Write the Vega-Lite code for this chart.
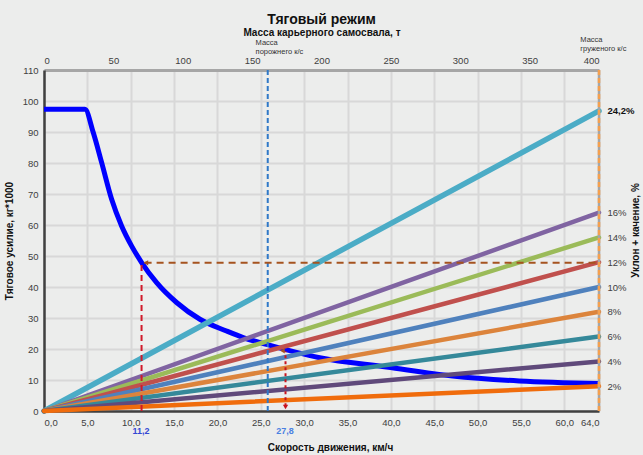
{
  "$schema": "https://vega.github.io/schema/vega-lite/v6.json",
  "width": 555,
  "height": 341,
  "autosize": {"type": "none"},
  "padding": {"left": 44, "top": 70, "right": 44, "bottom": 44},
  "background": "#ecedec",
  "title": {
    "text": "Тяговый режим",
    "fontSize": 14,
    "fontWeight": "bold",
    "color": "#111111",
    "anchor": "middle",
    "offset": 0
  },
  "config": {
    "font": "Liberation Sans",
    "view": {"stroke": null},
    "axis": {
      "labelFontSize": 9.5,
      "labelColor": "#404040",
      "titleFontSize": 10,
      "titleFontWeight": "bold",
      "titleColor": "#111111",
      "ticks": false,
      "tickSize": 0
    }
  },
  "datasets": {
    "effort": [
      {"v": 0, "f": 97.3},
      {"v": 4.72, "f": 97.3},
      {"v": 5.68, "f": 89.8},
      {"v": 6.65, "f": 80.1},
      {"v": 7.8, "f": 68.3},
      {"v": 8.95, "f": 59.7},
      {"v": 10.11, "f": 53.2},
      {"v": 11.26, "f": 47.9},
      {"v": 12.99, "f": 41.4},
      {"v": 15.29, "f": 35.0},
      {"v": 17.98, "f": 29.6},
      {"v": 21.05, "f": 25.8},
      {"v": 22.97, "f": 23.7},
      {"v": 25.66, "f": 21.5},
      {"v": 31.8, "f": 17.2},
      {"v": 39.5, "f": 14.2},
      {"v": 47.1, "f": 11.3},
      {"v": 54.8, "f": 9.7},
      {"v": 64, "f": 8.9}
    ],
    "slopes": [
      {"grade": "24,2%", "v": 0, "f": 0}, {"grade": "24,2%", "v": 64, "f": 96.8},
      {"grade": "16%", "v": 0, "f": 0}, {"grade": "16%", "v": 64, "f": 64},
      {"grade": "14%", "v": 0, "f": 0}, {"grade": "14%", "v": 64, "f": 56},
      {"grade": "12%", "v": 0, "f": 0}, {"grade": "12%", "v": 64, "f": 48},
      {"grade": "10%", "v": 0, "f": 0}, {"grade": "10%", "v": 64, "f": 40},
      {"grade": "8%", "v": 0, "f": 0}, {"grade": "8%", "v": 64, "f": 32},
      {"grade": "6%", "v": 0, "f": 0}, {"grade": "6%", "v": 64, "f": 24},
      {"grade": "4%", "v": 0, "f": 0}, {"grade": "4%", "v": 64, "f": 16},
      {"grade": "2%", "v": 0, "f": 0}, {"grade": "2%", "v": 64, "f": 8}
    ]
  },
  "layer": [
    {
      "data": {"name": "effort"},
      "mark": {"type": "line", "color": "#0000ff", "strokeWidth": 5, "interpolate": "monotone"},
      "encoding": {
        "x": {
          "field": "v", "type": "quantitative",
          "scale": {"domain": [0, 64], "nice": false, "zero": false},
          "axis": {
            "orient": "bottom",
            "values": [0, 5, 10, 15, 20, 25, 30, 35, 40, 45, 50, 55, 60, 64],
            "labelExpr": "replace(format(datum.value, '.1f'), '.', ',')",
            "labelPadding": 6,
            "grid": true, "gridColor": "#d8d8d8", "gridWidth": 2,
            "domainColor": "#404040", "domainWidth": 2.5,
            "title": "Скорость движения, км/ч",
            "titlePadding": 16,
            "titleX": 286
          }
        },
        "y": {
          "field": "f", "type": "quantitative",
          "scale": {"domain": [0, 110], "nice": false, "zero": false},
          "axis": {
            "orient": "left",
            "values": [0, 10, 20, 30, 40, 50, 60, 70, 80, 90, 100, 110],
            "labelPadding": 6,
            "grid": true, "gridColor": "#d8d8d8", "gridWidth": 2,
            "domainColor": "#404040", "domainWidth": 2.5,
            "title": "Тяговое усилие, кг*1000",
            "titlePadding": 8
          }
        }
      }
    },
    {
      "data": {"name": "slopes"},
      "mark": {"type": "line", "strokeCap": "round"},
      "encoding": {
        "x": {
          "field": "v", "type": "quantitative",
          "axis": {
            "orient": "top",
            "values": [0, 8, 16, 24, 32, 40, 48, 56, 64],
            "labelExpr": "format(datum.value * 6.25, 'd')",
            "labelPadding": 5,
            "grid": false,
            "domainColor": "#a6a6a6", "domainWidth": 3,
            "title": "Масса карьерного самосвала, т",
            "titlePadding": 18
          }
        },
        "y": {
          "field": "f", "type": "quantitative",
          "axis": {
            "orient": "right",
            "values": [8, 16, 24, 32, 40, 48, 56, 64, 96.8],
            "labelExpr": "replace(format(datum.value / 4, datum.value > 90 ? '.1f' : 'd'), '.', ',') + '%'",
            "labelFontWeight": {"expr": "datum.value > 90 ? 'bold' : 'normal'"},
            "labelColor": {"expr": "datum.value > 90 ? '#111111' : '#404040'"},
            "labelPadding": 8,
            "labelAlign": "left",
            "grid": false,
            "domain": false,
            "title": "Уклон + качение, %",
            "titleAngle": 270,
            "titleBaseline": "top",
            "titleAlign": "center",
            "titleX": 31,
            "titleY": 160
          }
        },
        "color": {
          "field": "grade", "type": "nominal", "legend": null,
          "scale": {
            "domain": ["24,2%", "16%", "14%", "12%", "10%", "8%", "6%", "4%", "2%"],
            "range": ["#4bacc6", "#8064a2", "#9bbb59", "#c0504d", "#4f81bd", "#dc843c", "#35899a", "#604a7b", "#f06c0c"]
          }
        },
        "strokeWidth": {
          "condition": {"test": "datum.grade == '24,2%'", "value": 5.5},
          "value": 4.5
        }
      }
    },
    {
      "data": {"values": [{"v": 64, "f0": 0, "f1": 110}]},
      "mark": {"type": "rule", "color": "#a6a6a6", "strokeWidth": 2.5},
      "encoding": {
        "x": {"field": "v", "type": "quantitative", "axis": null},
        "y": {"field": "f0", "type": "quantitative", "axis": null},
        "y2": {"field": "f1"}
      }
    },
    {
      "data": {"values": [{"v": 64, "f0": 0, "f1": 110}]},
      "mark": {"type": "rule", "color": "#f5a04e", "strokeWidth": 2.5, "strokeDash": [5, 3]},
      "encoding": {
        "x": {"field": "v", "type": "quantitative", "axis": null},
        "y": {"field": "f0", "type": "quantitative", "axis": null},
        "y2": {"field": "f1"}
      }
    },
    {
      "data": {"values": [{"v": 25.8, "f0": 0, "f1": 111}]},
      "mark": {"type": "rule", "color": "#2f78c8", "strokeWidth": 2, "strokeDash": [5, 3]},
      "encoding": {
        "x": {"field": "v", "type": "quantitative", "axis": null},
        "y": {"field": "f0", "type": "quantitative", "axis": null},
        "y2": {"field": "f1"}
      }
    },
    {
      "data": {"values": [{"v": 11.25, "f0": 0, "f1": 47.8}]},
      "mark": {"type": "rule", "color": "#d01a2a", "strokeWidth": 2, "strokeDash": [6, 4]},
      "encoding": {
        "x": {"field": "v", "type": "quantitative", "axis": null},
        "y": {"field": "f0", "type": "quantitative", "axis": null},
        "y2": {"field": "f1"}
      }
    },
    {
      "data": {"values": [{"v0": 11.6, "v1": 64, "f": 47.8}]},
      "mark": {"type": "rule", "color": "#a5531f", "strokeWidth": 2, "strokeDash": [7, 5]},
      "encoding": {
        "x": {"field": "v0", "type": "quantitative", "axis": null},
        "x2": {"field": "v1"},
        "y": {"field": "f", "type": "quantitative", "axis": null}
      }
    },
    {
      "data": {"values": [{"v": 27.85, "f0": 1.5, "f1": 19.3}]},
      "mark": {"type": "rule", "color": "#c8141e", "strokeWidth": 2, "strokeDash": [3, 3]},
      "encoding": {
        "x": {"field": "v", "type": "quantitative", "axis": null},
        "y": {"field": "f0", "type": "quantitative", "axis": null},
        "y2": {"field": "f1"}
      }
    },
    {
      "data": {"values": [
        {"v": 11.75, "f": 47.8, "shape": "triangle-left", "c": "arrow1"},
        {"v": 27.5, "f": 19.4, "shape": "triangle-left", "c": "arrow1"},
        {"v": 27.85, "f": 1.3, "shape": "triangle-down", "c": "arrow2"}
      ]},
      "mark": {"type": "point", "filled": true, "size": 28, "opacity": 1},
      "encoding": {
        "x": {"field": "v", "type": "quantitative", "axis": null},
        "y": {"field": "f", "type": "quantitative", "axis": null},
        "shape": {"field": "shape", "type": "nominal", "scale": null, "legend": null},
        "fill": {
          "condition": {"test": "datum.c == 'arrow1'", "value": "#a5531f"},
          "value": "#c8141e"
        },
        "stroke": {"value": null}
      }
    },
    {
      "data": {"values": [
        {"v": 11.2, "f": -6.3, "label": "11,2"},
        {"v": 27.8, "f": -6.3, "label": "27,8"}
      ]},
      "mark": {"type": "text", "fontSize": 9, "fontWeight": "bold", "baseline": "middle", "align": "center"},
      "encoding": {
        "x": {"field": "v", "type": "quantitative", "axis": null},
        "y": {"field": "f", "type": "quantitative", "axis": null},
        "text": {"field": "label"},
        "color": {
          "condition": {"test": "datum.label == '11,2'", "value": "#3448d4"},
          "value": "#4a80e2"
        }
      }
    },
    {
      "data": {"values": [
        {"v": 24.4, "f": 118.8, "label": ["Масса", "порожнего к/с"]},
        {"v": 61.85, "f": 119.8, "label": ["Масса", "груженого к/с"]}
      ]},
      "mark": {"type": "text", "fontSize": 7.5, "align": "left", "baseline": "middle", "lineHeight": 9.5, "color": "#333333"},
      "encoding": {
        "x": {"field": "v", "type": "quantitative", "axis": null},
        "y": {"field": "f", "type": "quantitative", "axis": null},
        "text": {"field": "label"}
      }
    }
  ],
  "resolve": {"axis": {"x": "independent", "y": "independent"}}
}
